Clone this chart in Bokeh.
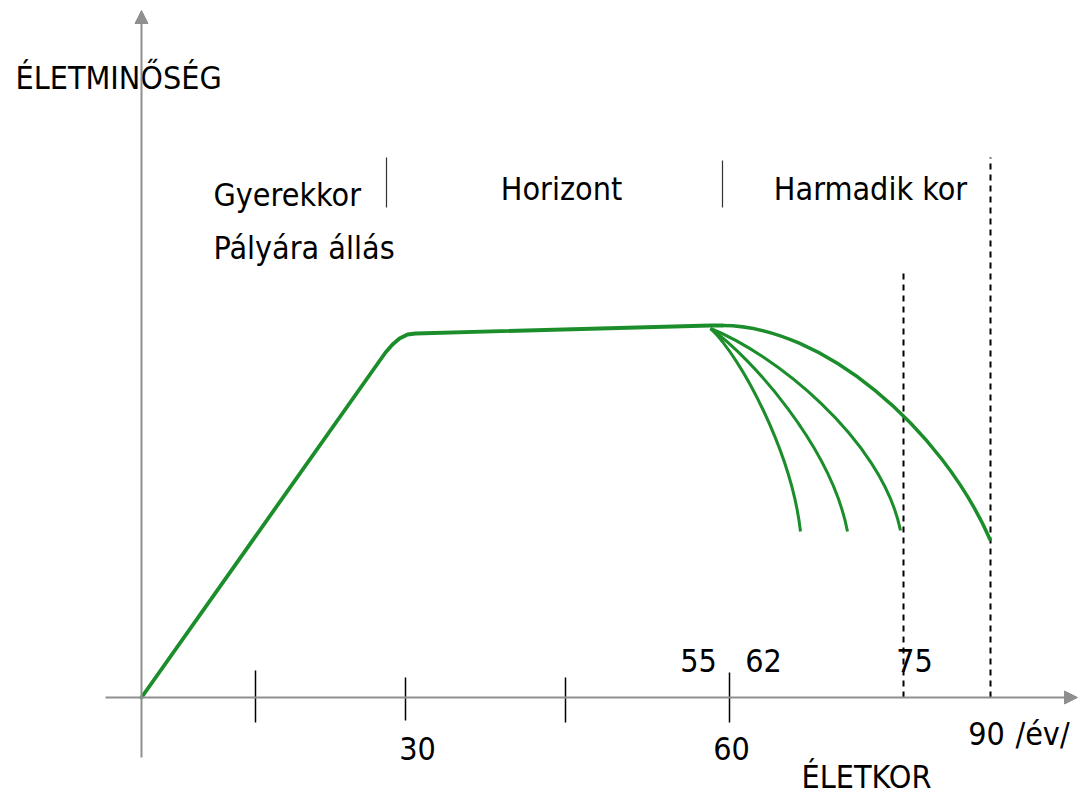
from bokeh.plotting import figure
from bokeh.models import Range1d, Arrow, NormalHead
from bokeh.core.properties import value
from bokeh.embed import file_html
from bokeh.resources import INLINE

# ---------------- data (diagram units: x = position along age axis, y = quality) -------------
# rising + plateau part of the life-quality curve
main_x = [0, 244, 251, 258, 266, 274, 569, 581]
main_y = [0, 345, 353, 359, 363, 364, 372, 372]

# decline curves after the plateau (cubic Bezier: start, control0, control1, end)
decl_x0 = [581, 569, 569, 569]
decl_y0 = [372, 369, 369, 369]
decl_cx0 = [680, 600, 610, 630]
decl_cy0 = [372, 340, 340, 345]
decl_cx1 = [800, 650, 690, 740]
decl_cy1 = [270, 245, 250, 260]
decl_x1 = [849, 659, 706, 759]
decl_y1 = [157, 166, 166, 167]
decl_w = [3.5, 3, 3, 3]

# axis ticks
tick_x = [114, 264, 424, 588]
tick_top = [27, 20, 20, 25]
tick_bot = [-25, -23, -25, -25]

# phase separators
sep_x = [245, 581]
sep_top = [540, 537]
sep_bot = [490, 490]

# dashed life-expectancy markers (75, 90)
dash_x = [762, 849]
dash_top = [425, 540]

# texts
lab_text = ["ÉLETMINŐSÉG", "Gyerekkor", "Pályára állás"]
lab_x = [-126, 72, 72]
lab_y = [620, 503, 450]

ctr_text = ["Horizont", "Harmadik kor", "55", "62", "75", "30", "60", "90", "/év/", "ÉLETKOR"]
ctr_x = [420, 729, 557, 622, 773, 276, 590, 845, 901, 725]
ctr_y = [509, 509, 37, 37, 37, -51, -51, -36, -36, -79]

GREEN = "#1b8e2b"
GRAY = "#8f8f8f"
FONT = value("'DejaVu Sans Condensed', 'Liberation Sans', sans-serif")
FS = "32px"

p = figure(width=1085, height=795, x_range=Range1d(-141, 944), y_range=Range1d(-98, 697),
           output_backend="svg", toolbar_location=None, min_border=0,
           x_axis_location=None, y_axis_location=None)
p.grid.visible = False
p.outline_line_color = None
p.background_fill_color = "white"
p.border_fill_color = "white"

# axes with arrowheads
p.add_layout(Arrow(end=NormalHead(size=13, fill_color=GRAY, line_color=GRAY, line_width=1),
                   x_start=0, y_start=-60, x_end=0, y_end=687,
                   line_color=GRAY, line_width=2))
p.add_layout(Arrow(end=NormalHead(size=13, fill_color=GRAY, line_color=GRAY, line_width=1),
                   x_start=-36, y_start=0, x_end=936, y_end=0,
                   line_color=GRAY, line_width=2))

# ticks
p.segment(x0=tick_x, y0=tick_bot, x1=tick_x, y1=tick_top, line_color="black", line_width=1.5)
# separators
p.segment(x0=sep_x, y0=sep_bot, x1=sep_x, y1=sep_top, line_color="#333333", line_width=1.2)
# dashed
p.segment(x0=dash_x, y0=[0, 0], x1=dash_x, y1=dash_top, line_color="black", line_width=2,
          line_dash="6 5")

# curves
p.line(main_x, main_y, line_color=GREEN, line_width=3.8, line_join="round", line_cap="round")
for i in range(len(decl_x0)):
    p.bezier(x0=[decl_x0[i]], y0=[decl_y0[i]], x1=[decl_x1[i]], y1=[decl_y1[i]],
             cx0=[decl_cx0[i]], cy0=[decl_cy0[i]], cx1=[decl_cx1[i]], cy1=[decl_cy1[i]],
             line_color=GREEN, line_width=decl_w[i])

# texts
p.text(x=lab_x, y=lab_y, text=lab_text, text_font=FONT, text_font_size=FS,
       text_align="left", text_baseline="alphabetic", text_color="black")
p.text(x=ctr_x, y=ctr_y, text=ctr_text, text_font=FONT, text_font_size=FS,
       text_align="center", text_baseline="alphabetic", text_color="black")

open("out.html", "w").write(file_html(p, INLINE))
